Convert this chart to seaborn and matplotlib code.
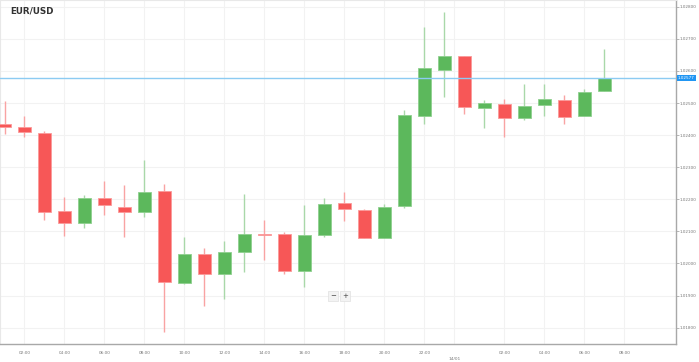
import matplotlib
matplotlib.use("Agg")
import matplotlib.pyplot as plt
import matplotlib.transforms as mtransforms
import seaborn as sns
import pandas as pd

# hours since 13/01 00:00
hours = list(range(1, 32))
opens = [1.02434, 1.02425, 1.02408, 1.02163, 1.02125, 1.02203, 1.02177, 1.02160,
         1.02225, 1.01938, 1.02029, 1.01968, 1.02036, 1.02091, 1.02091, 1.01977,
         1.02089, 1.02189, 1.02168, 1.02079, 1.02179, 1.02460, 1.02604, 1.02646,
         1.02484, 1.02498, 1.02454, 1.02493, 1.02510, 1.02459, 1.02537]
highs = [1.02506, 1.02460, 1.02412, 1.02208, 1.02213, 1.02258, 1.02245, 1.02322,
         1.02248, 1.02083, 1.02048, 1.02070, 1.02217, 1.02136, 1.02099, 1.02182,
         1.02203, 1.02222, 1.02169, 1.02185, 1.02477, 1.02738, 1.02784, 1.02646,
         1.02509, 1.02513, 1.02559, 1.02560, 1.02525, 1.02543, 1.02668]
lows = [1.02403, 1.02393, 1.02136, 1.02087, 1.02112, 1.02151, 1.02084, 1.02146,
        1.01787, 1.01936, 1.01869, 1.01889, 1.01974, 1.02011, 1.01966, 1.01926,
        1.02082, 1.02132, 1.02078, 1.02078, 1.02172, 1.02435, 1.02520, 1.02466,
        1.02421, 1.02394, 1.02447, 1.02460, 1.02434, 1.02458, 1.02537]
closes = [1.02425, 1.02410, 1.02160, 1.02126, 1.02204, 1.02181, 1.02160, 1.02223,
          1.01941, 1.02029, 1.01967, 1.02037, 1.02092, 1.02088, 1.01977, 1.02089,
          1.02186, 1.02169, 1.02079, 1.02175, 1.02462, 1.02608, 1.02647, 1.02488,
          1.02499, 1.02454, 1.02492, 1.02512, 1.02457, 1.02534, 1.02577]

tick_pos = [2, 4, 6, 8, 10, 12, 14, 16, 18, 20, 22, 26, 28, 30, 32]
tick_labels = ["02:00", "04:00", "06:00", "08:00", "10:00", "12:00", "14:00",
               "16:00", "18:00", "20:00", "22:00", "02:00", "04:00", "06:00", "08:00"]
date_pos = [23.5]
date_labels = ["14/01"]
y_ticks = [1.018, 1.019, 1.020, 1.021, 1.022, 1.023, 1.024, 1.025, 1.026, 1.027, 1.028]
last_price = 1.02577
title = "EUR/USD"

sns.set_style("white")
plt.rcParams['font.family'] = ['DejaVu Sans']

df = pd.DataFrame({"hour": hours, "open": opens, "high": highs,
                   "low": lows, "close": closes})
df["up"] = df["close"] >= df["open"]
df["bottom"] = df[["open", "close"]].min(axis=1)
df["height"] = (df["close"] - df["open"]).abs().clip(lower=0.00004)

green, red = "#5cb85c", "#f75757"
green_w, red_w = "#a9d8a9", "#f9a3a3"
green_e, red_e = "#8fd08f", "#fb9a9a"

fig = plt.figure(figsize=(6.99, 3.62), dpi=100)
ax = fig.add_axes([0, 18 / 362, 676 / 699, 344 / 362])

ax.grid(True, color="#f2f2f2", lw=0.8)
ax.set_axisbelow(True)

ax.vlines(df["hour"], df["low"], df["high"],
          colors=[green_w if u else red_w for u in df["up"]], lw=1.0, zorder=2)
ax.bar(df["hour"], df["height"], bottom=df["bottom"], width=0.64,
       color=[green if u else red for u in df["up"]],
       edgecolor=[green_e if u else red_e for u in df["up"]], lw=0.6, zorder=3)

ax.axhline(last_price, color="#8ccbf2", lw=1.0, zorder=4)

ax.set_xlim(0.775, 34.575)
ax.set_ylim(1.017492, 1.028209)

ax.yaxis.tick_right()
ax.set_yticks(y_ticks)
ax.set_yticklabels([f"{v:.5f}" for v in y_ticks])
ax.tick_params(axis="y", length=2.0, width=0.6, color="#aaaaaa",
               labelsize=3.0, labelcolor="#777777", pad=0.8)
ax.set_xticks(tick_pos)
ax.set_xticklabels(tick_labels)
ax.set_xticks(date_pos, minor=True)
ax.set_xticklabels(date_labels, minor=True)
ax.tick_params(axis="x", which="both", length=2.5, width=0.6, color="#aaaaaa",
               labelsize=3.1, labelcolor="#777777", pad=2.5)
ax.tick_params(axis="x", which="minor", pad=7.0)
ax.xaxis.grid(True, which="minor", color="#f2f2f2", lw=0.8)

for s in ["top", "left"]:
    ax.spines[s].set_color("#e8e8e8")
    ax.spines[s].set_linewidth(0.8)
for s in ["right", "bottom"]:
    ax.spines[s].set_color("#a8a8a8")
    ax.spines[s].set_linewidth(1.0)

ax.text(10 / 676, 1 - 11 / 344, title, transform=ax.transAxes, ha="left",
        va="center", fontsize=6.3, fontweight="bold", color="#333333")

trans = mtransforms.blended_transform_factory(ax.transAxes, ax.transData)
ax.text(1.0025, last_price, f"{last_price:.5f}", transform=trans, ha="left",
        va="center", fontsize=3.0, color="white", clip_on=False,
        bbox=dict(boxstyle="square,pad=0.25", fc="#2196f3", ec="none"))

for lbl, xp in [("\u2212", 333), ("+", 345)]:
    ax.text(xp / 676, (344 - 296) / 344, lbl, transform=ax.transAxes,
            ha="center", va="center", fontsize=5, color="#444444",
            bbox=dict(boxstyle="square,pad=0.3", fc="#f3f3f3", ec="#e0e0e0", lw=0.5))

fig.savefig("out.png", dpi=100)
